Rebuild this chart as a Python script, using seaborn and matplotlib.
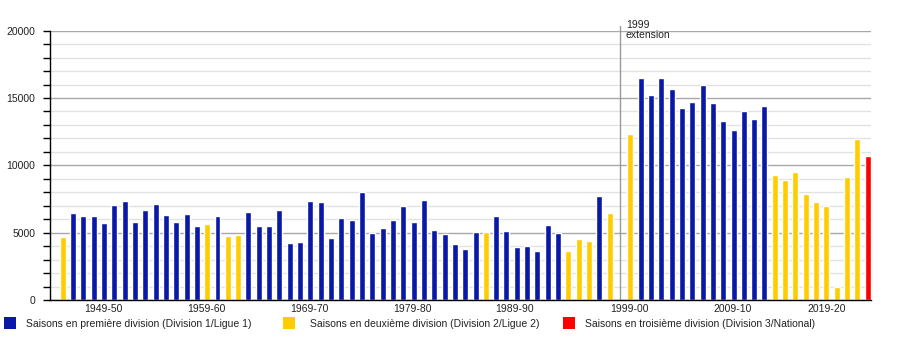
import matplotlib
matplotlib.use("Agg")
import matplotlib.pyplot as plt
from matplotlib.patches import Rectangle
from matplotlib.ticker import MultipleLocator, FixedLocator
import pandas as pd
import seaborn as sns

# Seasons 1945-46 .. 2023-24
first_year = 1945
n_seasons = 79
seasons = [f"{y}-{(y + 1) % 100:02d}" for y in range(first_year, first_year + n_seasons)]

# Average home attendance per season (None: no figure)
attendance = [
    4700, 6460, 6240, 6240, 5720, 7050, 7350, 5790, 6680, 7130,
    6310, 5790, 6390, 5500, 5640, 6240, 4750, 4830, 6540, 5500,
    5500, 6680, 4240, 4320, 7350, 7280, 4600, 6090, 5940, 8020,
    5000, 5350, 5940, 6980, 5790, 7430, 5200, 4930, 4160, 3790,
    5050, 5020, 6240, 5120, 3940, 4010, 3640, 5570, 4980, 3640,
    4530, 4380, 7720, 6490, None, 12330, 16490, 15220, 16490, 15670,
    14260, 14700, 15970, 14630, 13290, 12620, 14040, 13440, 14410, 9280,
    8910, 9510, 7870, 7280, 6980, 990, 9160, 11980, 10690,
]

# League level of each season
division = (
    ["D2"] + ["D1"] * 13 + ["D2"] + ["D1"] + ["D2"] * 2 + ["D1"] * 23
    + ["D2"] + ["D1"] * 7 + ["D2"] * 3 + ["D1"] + ["D2"] + [None]
    + ["D2"] + ["D1"] * 13 + ["D2"] * 9 + ["D3"]
)

tick_labels = ["1949-50", "1959-60", "1969-70", "1979-80",
               "1989-90", "1999-00", "2009-10", "2019-20"]
tick_slots = [3.9, 13.9, 23.9, 33.9, 43.8, 54.9, 64.9, 74.0]

event_season = "1999-00"
event_label = "1999\nextension"

legend_labels = {
    "D1": "Saisons en première division (Division 1/Ligue 1)",
    "D2": "Saisons en deuxième division (Division 2/Ligue 2)",
    "D3": "Saisons en troisième division (Division 3/National)",
}
colors = {"D1": "#0a18a8", "D2": "#ffcc00", "D3": "#ff0000"}

sns.set_theme(style="white")
plt.rcParams["font.family"] = ["Liberation Sans", "DejaVu Sans"]
FS = 7.5
TXT = "#222222"

W, H = 900, 350
fig = plt.figure(figsize=(W / 100, H / 100), dpi=100)
ax = fig.add_axes([50 / W, 1 - 300 / H, 821 / W, 269.3 / H])

df = pd.DataFrame({"season": seasons, "attendance": attendance,
                   "division": division}).dropna()
sns.barplot(data=df, x="season", y="attendance", hue="division",
            order=seasons, hue_order=["D1", "D2", "D3"], palette=colors,
            dodge=False, width=0.58, saturation=1, legend=False, ax=ax)

ax.set_xlim(-1.23, n_seasons - 1 + 0.32)
ax.set_ylim(0, 20000)
ax.set_xlabel("")
ax.set_ylabel("")

ax.yaxis.set_major_locator(MultipleLocator(5000))
ax.yaxis.set_minor_locator(FixedLocator([v for v in range(1000, 20000, 1000)
                                         if v % 5000]))
ax.set_axisbelow(True)
ax.grid(False)
ax.grid(which="major", axis="y", color="#a8a8a8", lw=1, linestyle="-")
ax.grid(which="minor", axis="y", color="#e2e2e2", lw=1, linestyle="-")

for side in ("top", "right"):
    ax.spines[side].set_visible(False)
for side in ("left", "bottom"):
    ax.spines[side].set_color("black")
    ax.spines[side].set_linewidth(1)

ax.tick_params(axis="y", which="both", direction="out", length=5, width=1,
               color="black", left=True, pad=5.5, labelsize=FS, labelcolor=TXT)
ax.set_xticks(tick_slots, tick_labels)
ax.tick_params(axis="x", length=0, pad=3, labelsize=FS, labelcolor=TXT)

# Stadium extension marker
ev = seasons.index(event_season)
ax.axvline(ev, ymin=0, ymax=1.017, color="#999999", lw=1, clip_on=False)
ax.annotate(event_label, xy=(ev, 1), xycoords=("data", "axes fraction"),
            xytext=(4.2, 8), textcoords="offset points", ha="left", va="top",
            fontsize=FS, color=TXT, linespacing=1.0)

# Legend along the bottom
for key, x0, xt in (("D1", 3.5, 26), ("D2", 283, 310), ("D3", 563, 585)):
    fig.patches.append(Rectangle((x0 / W, 1 - 329 / H), 12 / W, 12 / H,
                                 transform=fig.transFigure,
                                 facecolor=colors[key], edgecolor="none"))
    fig.text(xt / W, 1 - 324 / H, legend_labels[key], ha="left",
             va="center", fontsize=FS, color=TXT)

fig.savefig("out.png", dpi=100)
